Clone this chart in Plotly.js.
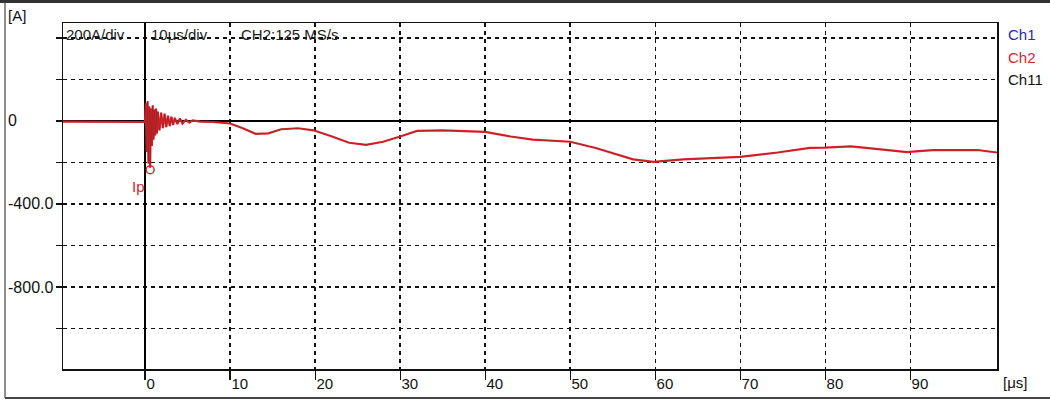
<!DOCTYPE html>
<html>
<head>
<meta charset="utf-8">
<script src="https://cdn.plot.ly/plotly-3.0.1.min.js"></script>
<style>html,body{margin:0;padding:0;background:#fff;}#chart{width:1050px;height:401px;}</style>
</head>
<body>
<div id="chart"></div>
<script>
// time in microseconds
var timeUs = [-9.65, -5, -0.2, 0.0, 0.1, 0.2, 0.3, 0.4, 0.5, 0.6, 0.7, 0.8, 0.9, 1.0, 1.1, 1.2, 1.3, 1.4, 1.5, 1.7, 1.9, 2.1, 2.3, 2.5, 2.7, 2.9, 3.1, 3.3, 3.5, 3.8, 4.1, 4.4, 4.8, 5.2, 5.6, 6.5, 8, 10, 11.5, 13, 14.5, 16, 18, 19.8, 22, 24, 26, 28, 30, 32, 35, 38, 40, 43, 45.6, 50, 53, 57.4, 59.8, 63.3, 67, 70, 74.4, 78.2, 80, 83, 86.8, 89.6, 91, 92.7, 97.9, 100.2];
// current in A (Ch2)
var currentA = [-3, -3, -3, -5, 85, -150, 95, -205, 70, -225, 60, -120, 75, -90, 55, -70, 60, -60, 45, -45, 40, -35, 35, -30, 25, -25, 20, -20, 15, -15, 12, -12, 6, -8, 3, -3, -5, -12, -35, -62, -60, -40, -35, -45, -75, -105, -115, -100, -75, -48, -45, -48, -53, -75, -90, -100, -130, -185, -197, -185, -180, -173, -152, -130, -128, -122, -138, -150, -145, -140, -140, -152];
var ipTime = [0.6];
var ipValue = [-235];
var xTickVals = [0, 10, 20, 30, 40, 50, 60, 70, 80, 90];
var xTickText = ['0', '10', '20', '30', '40', '50', '60', '70', '80', '90'];
var yGridVals = [400, 200, 0, -200, -400, -600, -800, -1000];
var yLabelVals = [0, -400, -800];
var yLabelText = ['0', '-400.0', '-800.0'];
var channelNames = ['Ch1', 'Ch2', 'Ch11'];
var channelColors = ['#2a2a9a', '#cc2a32', '#111111'];
var headerTexts = ['200A/div', '10\u03bcs/div', 'CH2:125 MS/s'];

var FONT = '"Liberation Sans", Arial, sans-serif';
var FS = 15;
var L = 63, R = 53, T = 23, B = 32, W = 1050, H = 401;
var pw = W - L - R, ph = H - T - B;
function px(x) { return (x - L) / pw; }
function py(y) { return (H - B - y) / ph; }

var traces = [
  {x: timeUs, y: currentA, mode: 'lines', line: {color: '#e0262e', width: 2.2}, hoverinfo: 'skip'},
  {x: timeUs, y: currentA, mode: 'lines', line: {color: '#7a1c1c', width: 0.7}, opacity: 0.6, hoverinfo: 'skip'},
  {x: ipTime, y: ipValue, mode: 'markers', marker: {symbol: 'circle-open', size: 8, color: '#d8262e', line: {width: 1.5, color: '#d8262e'}}, hoverinfo: 'skip'}
];

var ann = [];
for (var i = 0; i < yLabelVals.length; i++) {
  ann.push({xref: 'paper', yref: 'y', x: 0, y: yLabelVals[i], xshift: -57, xanchor: 'left', yanchor: 'middle', text: yLabelText[i], showarrow: false, font: {family: FONT, size: 16, color: '#111'}});
}
var legendY = [35, 57, 79];
for (var j = 0; j < channelNames.length; j++) {
  ann.push({xref: 'paper', yref: 'paper', x: px(1006), y: py(legendY[j]), xanchor: 'left', yanchor: 'middle', text: channelNames[j], showarrow: false, font: {family: FONT, size: FS, color: channelColors[j]}});
}
var headerX = [64, 149, 239];
for (var k = 0; k < headerTexts.length; k++) {
  ann.push({xref: 'paper', yref: 'paper', x: px(headerX[k]), y: py(35), xanchor: 'left', yanchor: 'middle', text: headerTexts[k], showarrow: false, font: {family: FONT, size: FS, color: '#222'}});
}
ann.push({xref: 'paper', yref: 'paper', x: px(6), y: py(15), xanchor: 'left', yanchor: 'middle', text: '[A]', showarrow: false, font: {family: FONT, size: FS, color: '#111'}});
ann.push({xref: 'paper', yref: 'paper', x: px(1001), y: py(382), xanchor: 'left', yanchor: 'middle', text: '[\u03bcs]', showarrow: false, font: {family: FONT, size: FS, color: '#111'}});
ann.push({xref: 'x', yref: 'y', x: ipTime[0], y: ipValue[0], xshift: -12, yshift: -17, xanchor: 'center', yanchor: 'middle', text: 'Ip', showarrow: false, font: {family: FONT, size: FS, color: '#d8262e'}});

var layout = {
  width: W, height: H,
  margin: {l: L, r: R, t: T, b: B, pad: 0},
  paper_bgcolor: '#ffffff', plot_bgcolor: '#ffffff',
  showlegend: false,
  font: {family: FONT, size: FS, color: '#111'},
  xaxis: {
    range: [-9.65, 100.2], tickmode: 'array', tickvals: xTickVals, ticktext: xTickText,
    ticks: 'outside', ticklen: 9, tickwidth: 1.2, tickcolor: '#111',
    ticklabelposition: 'outside right', tickfont: {family: FONT, size: FS, color: '#111'},
    showgrid: true, gridcolor: '#111', gridwidth: 1.4, griddash: '4px,4px',
    zeroline: true, zerolinecolor: '#000', zerolinewidth: 1.5,
    showline: true, linecolor: '#111', linewidth: 1.5, mirror: true
  },
  yaxis: {
    range: [-1195, 472], tickmode: 'array', tickvals: yGridVals,
    showticklabels: false, ticks: 'outside', ticklen: 6, tickwidth: 1.2, tickcolor: '#111',
    showgrid: true, gridcolor: '#111', gridwidth: 1.4, griddash: '4px,4px',
    zeroline: true, zerolinecolor: '#000', zerolinewidth: 1.5,
    showline: true, linecolor: '#111', linewidth: 1.5, mirror: true
  },
  annotations: ann,
  shapes: [
    {type: 'line', xref: 'paper', yref: 'paper', x0: px(0), x1: px(1050), y0: py(1.5), y1: py(1.5), line: {color: '#333', width: 3}},
    {type: 'line', xref: 'paper', yref: 'paper', x0: px(5), x1: px(5), y0: py(1.5), y1: py(398), line: {color: '#444', width: 1.2}},
    {type: 'line', xref: 'paper', yref: 'paper', x0: px(5), x1: px(1050), y0: py(398), y1: py(398), line: {color: '#444', width: 2}}
  ]
};

Plotly.newPlot('chart', traces, layout, {staticPlot: true, displayModeBar: false});
</script>
</body>
</html>
